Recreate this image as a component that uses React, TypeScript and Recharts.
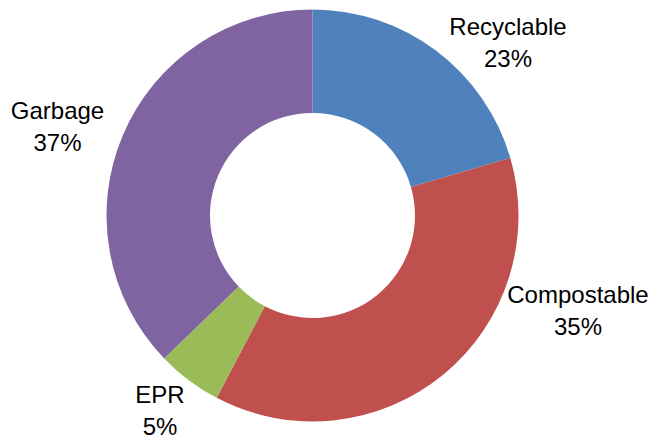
import React from "react";
import { PieChart, Pie, Cell } from "recharts";

const categories = ["Recyclable", "Compostable", "EPR", "Garbage"];
// slice sizes as drawn in the picture
const sliceSizes = [20.5, 37.2, 5.1, 37.2];
// percentage text as printed on the labels
const labelPercents = ["23%", "35%", "5%", "37%"];
const colors = ["#4F81BD", "#C0504D", "#9BBB59", "#8064A2"];

const data = categories.map((name, i) => ({
  name,
  value: sliceSizes[i],
  pct: labelPercents[i],
}));

// text block centre offsets from the pie centre (label placement only)
const LABEL_OFFSET: Record<string, [number, number]> = {
  Recyclable: [195.5, -172.5],
  Compostable: [265.5, 95.5],
  EPR: [-152.5, 195],
  Garbage: [-255, -89],
};

const FONT = "'Liberation Sans', Arial, sans-serif";

const renderLabel = (props: any) => {
  const { cx, cy, name, payload } = props;
  const off = LABEL_OFFSET[name] || [0, 0];
  const x = cx + off[0];
  const yMid = cy + off[1];
  const pct = payload?.pct ?? (payload?.payload?.pct);
  return (
    <text
      x={x}
      y={yMid}
      textAnchor="middle"
      fontFamily={FONT}
      fontSize={24}
      fill="#000"
    >
      <tspan x={x} y={yMid - 8}>{name}</tspan>
      <tspan x={x} y={yMid + 24}>{pct}</tspan>
    </text>
  );
};

export default function App() {
  return (
    <div style={{ position: "absolute", left: 0, top: 0, width: 656, height: 438, background: "#fff" }}>
      <PieChart width={656} height={438} margin={{ top: 0, right: 0, bottom: 0, left: 0 }}>
        <Pie
          data={data}
          dataKey="value"
          nameKey="name"
          cx={312.5}
          cy={215.5}
          innerRadius={102.5}
          outerRadius={206}
          startAngle={90}
          endAngle={-270}
          stroke="none"
          label={renderLabel}
          labelLine={false}
          isAnimationActive={false}
        >
          {data.map((d, i) => (
            <Cell key={d.name} fill={colors[i]} />
          ))}
        </Pie>
      </PieChart>
    </div>
  );
}
